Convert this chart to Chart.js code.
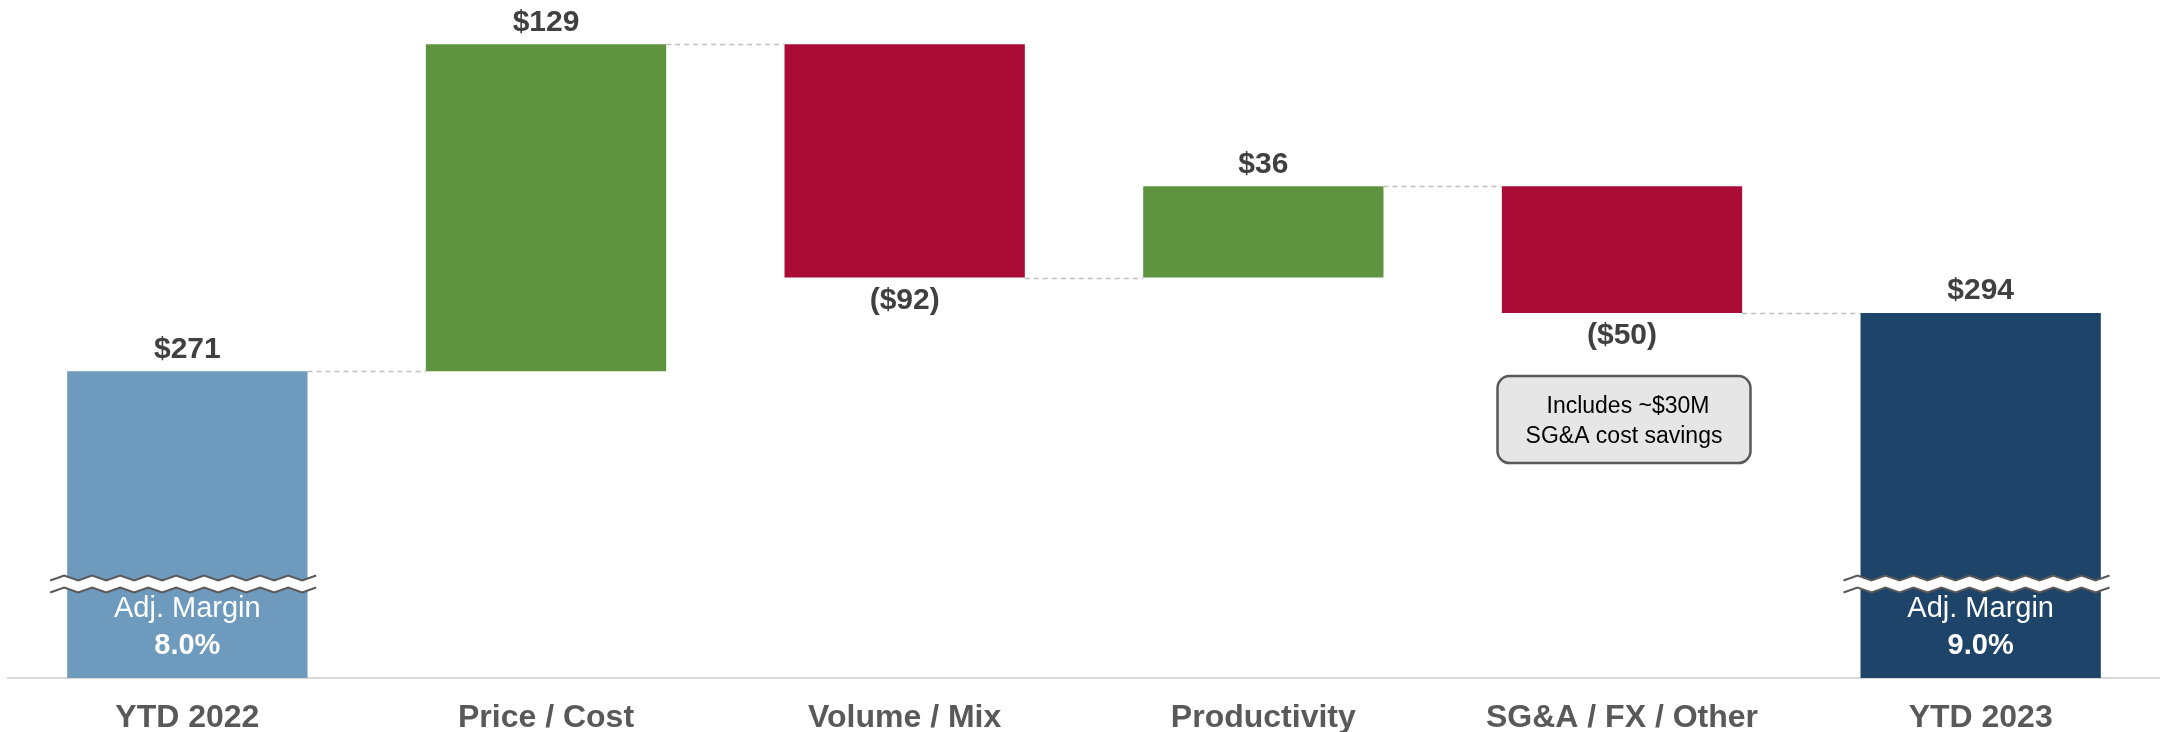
<!DOCTYPE html>
<html>
<head>
<meta charset="utf-8">
<script src="https://cdn.jsdelivr.net/npm/chart.js@4"></script>
<style>
    html, body { margin: 0; padding: 0; background: #ffffff; }
    #wrap { width: 2160px; height: 732px; }
</style>
</head>
<body>
<div id="wrap"><canvas id="bridge"></canvas></div>
<script>
const categories = ['YTD 2022', 'Price / Cost', 'Volume / Mix', 'Productivity', 'SG&A / FX / Other', 'YTD 2023'];
const changes = [271, 129, -92, 36, -50, 294];
const barTypes = ['total', 'up', 'down', 'up', 'down', 'total'];
const valueLabels = ['$271', '$129', '($92)', '$36', '($50)', '$294'];
const marginLabels = ['8.0%', '', '', '', '', '9.0%'];
const noteLines = ['Includes ~$30M', 'SG&A cost savings'];
const noteIndex = 4;
const axisMin = 150;
const axisMax = 417.5;

const barColors = {
    up: '#5e9440',
    down: '#ab0b37'
};
const totalColors = ['#6e9abd', '#1f4469'];
const font = '"Liberation Sans", Arial, sans-serif';

// floating ranges for the waterfall
let running = 0;
const ranges = changes.map((v, i) => {
    if (barTypes[i] === 'total') {
        running = v;
        return [axisMin, v];
    }
    const start = running;
    running += v;
    return [start, running];
});

let totalCount = 0;
const colors = barTypes.map(t => t === 'total' ? totalColors[totalCount++] : barColors[t]);

function zigzag(x0, x1, y, step, amp) {
    const pts = [];
    let k = 0;
    for (let x = x0; x <= x1 + 0.1; x += step) {
        pts.push([x, y + (k % 2 === 0 ? amp : -amp)]);
        k++;
    }
    return pts;
}

const bridgePlugin = {
    id: 'bridgeExtras',
    afterDatasetsDraw(chart) {
        const ctx = chart.ctx;
        const meta = chart.getDatasetMeta(0);
        const y = chart.scales.y;
        const area = chart.chartArea;

        ctx.save();

        // dashed connectors
        ctx.strokeStyle = '#bfbfbf';
        ctx.lineWidth = 1.5;
        ctx.setLineDash([5, 4]);
        for (let i = 0; i < meta.data.length - 1; i++) {
            const bar = meta.data[i];
            const next = meta.data[i + 1];
            const py = Math.round(y.getPixelForValue(ranges[i][1])) + 0.5;
            ctx.beginPath();
            ctx.moveTo(bar.x + bar.width / 2, py);
            ctx.lineTo(next.x - next.width / 2, py);
            ctx.stroke();
        }
        ctx.setLineDash([]);

        // value labels
        ctx.fillStyle = '#404040';
        ctx.font = 'bold 30px ' + font;
        ctx.textAlign = 'center';
        ctx.textBaseline = 'middle';
        meta.data.forEach((bar, i) => {
            const top = Math.max(ranges[i][0], ranges[i][1]);
            const bottom = Math.min(ranges[i][0], ranges[i][1]);
            if (barTypes[i] === 'down') {
                ctx.fillText(valueLabels[i], bar.x, y.getPixelForValue(bottom) + 23);
            } else {
                ctx.fillText(valueLabels[i], bar.x, y.getPixelForValue(top) - 22);
            }
        });

        // axis breaks and margin text on the totals
        meta.data.forEach((bar, i) => {
            if (barTypes[i] !== 'total') return;
            const x0 = bar.x - bar.width / 2 - 17;
            const x1 = bar.x + bar.width / 2 + 12;
            const yb = area.bottom - 94;
            const topPts = zigzag(x0, x1, yb - 6, 14, 2.5);
            const botPts = zigzag(x0, x1, yb + 6, 14, 2.5);

            ctx.fillStyle = '#ffffff';
            ctx.beginPath();
            topPts.forEach((p, k) => k === 0 ? ctx.moveTo(p[0], p[1]) : ctx.lineTo(p[0], p[1]));
            botPts.slice().reverse().forEach(p => ctx.lineTo(p[0], p[1]));
            ctx.closePath();
            ctx.fill();

            ctx.strokeStyle = '#595959';
            ctx.lineWidth = 2;
            [topPts, botPts].forEach(pts => {
                ctx.beginPath();
                pts.forEach((p, k) => k === 0 ? ctx.moveTo(p[0], p[1]) : ctx.lineTo(p[0], p[1]));
                ctx.stroke();
            });

            ctx.fillStyle = '#ffffff';
            ctx.font = '29px ' + font;
            ctx.fillText('Adj. Margin', bar.x, area.bottom - 69);
            ctx.font = 'bold 29px ' + font;
            ctx.fillText(marginLabels[i], bar.x, area.bottom - 32);
        });

        // note box
        const nb = meta.data[noteIndex];
        const boxW = 253, boxH = 87;
        const bx = nb.x - boxW / 2 + 2;
        const by = y.getPixelForValue(Math.min(ranges[noteIndex][0], ranges[noteIndex][1])) + 63;
        ctx.beginPath();
        ctx.roundRect(bx, by, boxW, boxH, 12);
        ctx.fillStyle = '#e6e6e6';
        ctx.fill();
        ctx.lineWidth = 2.5;
        ctx.strokeStyle = '#595959';
        ctx.stroke();
        ctx.fillStyle = '#000000';
        ctx.font = '23px ' + font;
        ctx.fillText(noteLines[0], bx + boxW / 2 + 4, by + 31);
        ctx.fillText(noteLines[1], bx + boxW / 2, by + 61);

        ctx.restore();
    }
};

const ctx = document.getElementById('bridge').getContext('2d');
new Chart(ctx, {
    type: 'bar',
    data: {
        labels: categories,
        datasets: [{
            data: ranges,
            backgroundColor: colors,
            borderWidth: 0,
            borderSkipped: false,
            barPercentage: 0.67,
            categoryPercentage: 1.0
        }]
    },
    options: {
        responsive: true,
        maintainAspectRatio: false,
        animation: false,
        events: [],
        layout: {
            padding: { left: 8, right: 0, top: 0, bottom: 0 }
        },
        plugins: {
            legend: { display: false },
            tooltip: { enabled: false }
        },
        scales: {
            x: {
                grid: { display: false, drawTicks: false },
                border: { display: true, color: '#d9d9d9', width: 2 },
                afterFit(scale) { scale.height = 54; },
                ticks: {
                    color: '#595959',
                    padding: 21,
                    font: { family: font, size: 32, weight: 'bold' },
                    maxRotation: 0,
                    autoSkip: false
                }
            },
            y: {
                display: false,
                min: axisMin,
                max: axisMax
            }
        }
    },
    plugins: [bridgePlugin]
});
</script>
</body>
</html>
